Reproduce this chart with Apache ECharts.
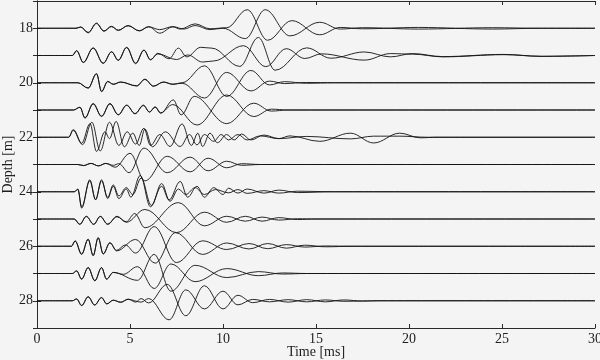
<!DOCTYPE html>
<html>
<head>
<meta charset="utf-8">
<script src="https://cdn.jsdelivr.net/npm/echarts@6/dist/echarts.min.js"></script>
<style>html,body{margin:0;padding:0;background:#f4f4f4;}#c{width:600px;height:360px;}</style>
</head>
<body>
<div id="c"></div>
<script>
// Axis ticks
const timeTicks = [0, 5, 10, 15, 20, 25, 30];
const depthLabels = [18, 20, 22, 24, 26, 28];
const depths = [18, 19, 20, 21, 22, 23, 24, 25, 26, 27, 28];

// Each trace: [time (ms), offset from depth (m, positive = deeper)] at peaks/troughs
const a18 = [[0,0],[2.1,0],[2.35,-0.05],[2.75,0.17],[3.2,-0.19],[3.6,0.11],[4.0,-0.07],[4.37,0.08],[4.9,-0.1],[5.5,0.1],[6.0,-0.06],[6.6,0.18],[7.3,-0.05],[7.7,0.03],[8.5,-0.16],[9.3,0.02],[10.2,-0.02],[11.3,-0.68],[12.4,0.44],[13.7,-0.28],[15.2,0.24],[16.3,-0.03],[17.5,0.02],[20.5,-0.03],[24.5,0.03],[27,0],[30,0]];
const b18 = [[0,0],[2.1,0],[2.35,-0.04],[2.75,0.15],[3.2,-0.17],[3.6,0.1],[4.0,-0.06],[4.37,0.07],[4.9,-0.09],[5.5,0.09],[6.0,-0.05],[6.6,0.05],[7.3,-0.06],[7.9,0.03],[8.5,-0.1],[9.3,0.05],[10.0,0.0],[11.2,0.38],[12.27,-0.68],[13.6,0.28],[15.2,-0.22],[16.3,0.03],[17.5,-0.02],[20.5,0.03],[24.5,-0.02],[27,0],[30,0]];

const a19 = [[0,0],[1.9,0],[2.13,-0.18],[2.49,0.26],[3.02,-0.28],[3.56,0.29],[4.01,-0.14],[4.37,0.18],[4.82,-0.3],[5.3,0.3],[5.75,-0.2],[6.1,0.16],[6.5,-0.08],[7.1,0.12],[7.6,-0.27],[8.05,0.05],[8.8,-0.3],[9.4,-0.27],[10.9,0.4],[11.9,-0.66],[12.8,0.54],[14.5,-0.28],[15.8,0.1],[17.6,-0.13],[19.0,0.05],[20.2,-0.07],[21.8,0.04],[25.1,-0.04],[27.1,0.03],[30,0]];
const b19 = [[0,0],[1.9,0],[2.13,-0.17],[2.49,0.25],[3.02,-0.27],[3.56,0.28],[4.01,-0.13],[4.37,0.17],[4.82,-0.29],[5.3,0.28],[5.75,-0.19],[6.1,0.15],[6.5,-0.06],[7.5,0.15],[8.1,-0.02],[8.9,0.24],[9.5,0.2],[11.1,-0.36],[12.3,0.41],[13.4,-0.25],[14.4,0.11],[15.3,-0.06],[17.6,0.17],[19.0,-0.07],[20.2,-0.05],[21.8,0.05],[25.1,-0.03],[27.1,0.03],[30,0]];

const a20 = [[0,0],[2.2,0],[2.75,0.2],[3.2,-0.34],[3.47,0.33],[3.8,-0.05],[4.1,0.06],[4.5,-0.03],[5.36,0.12],[5.8,-0.13],[6.26,0.13],[6.8,-0.03],[7.3,0.06],[7.8,0.0],[9.0,-0.62],[10.2,0.5],[11.5,-0.45],[12.5,0.08],[13.3,-0.04],[14.5,0.02],[16,0],[30,0]];
const b20 = [[0,0],[2.2,0],[2.75,0.19],[3.2,-0.32],[3.47,0.31],[3.8,-0.04],[4.1,0.05],[4.5,-0.02],[5.36,0.11],[5.8,-0.12],[6.26,0.12],[6.8,-0.02],[7.3,0.05],[7.8,0.02],[9.0,0.56],[10.2,-0.38],[11.5,0.3],[12.5,-0.06],[13.3,0.03],[14.5,-0.01],[16,0],[30,0]];

const a21 = [[0,0],[1.96,0],[2.31,-0.1],[2.58,0.3],[3.02,-0.24],[3.47,0.24],[3.92,-0.24],[4.37,0.18],[4.82,-0.18],[5.27,0.14],[5.72,-0.18],[6.05,0.08],[6.35,-0.12],[6.65,0.12],[7.33,-0.37],[7.75,0.18],[8.45,-0.5],[10.2,0.5],[11.65,-0.25],[12.6,0.04],[13.5,0],[30,0]];
const b21 = [[0,0],[1.96,0],[2.31,-0.1],[2.58,0.28],[3.02,-0.22],[3.47,0.22],[3.92,-0.22],[4.37,0.17],[4.82,-0.17],[5.27,0.13],[5.72,-0.16],[6.05,0.07],[6.35,-0.1],[6.65,0.1],[7.3,-0.2],[8.6,0.55],[10.2,-0.55],[11.65,0.24],[12.6,-0.03],[13.5,0],[30,0]];

const a22 = [[0,0],[1.7,0],[1.95,-0.28],[2.45,0.27],[2.95,-0.55],[3.4,0.5],[3.9,-0.55],[4.4,0.3],[4.85,-0.2],[5.3,0.25],[5.75,-0.33],[6.1,0.3],[6.6,-0.1],[7.15,0.34],[7.8,-0.49],[8.3,0.3],[8.65,-0.15],[8.9,0.34],[9.3,-0.15],[9.7,0.2],[10.2,-0.1],[10.6,0.1],[11.0,-0.12],[11.5,0.1],[12.2,-0.08],[13.0,0.05],[13.6,-0.05],[15.2,0.15],[16.85,-0.15],[18.1,0.21],[19.5,-0.15],[20.6,0.02],[21.5,0],[30,0]];
const b22 = [[0,0],[1.7,0],[1.95,-0.25],[2.4,0.22],[2.85,-0.5],[3.2,0.52],[3.65,-0.2],[3.9,0.05],[4.25,-0.58],[4.7,0.35],[5.15,-0.15],[5.5,0.3],[5.8,-0.3],[6.2,0.35],[6.9,-0.2],[7.7,0.34],[8.2,-0.1],[8.6,0.28],[9.0,-0.1],[9.5,0.15],[9.9,-0.1],[10.3,0.1],[10.8,-0.1],[11.3,0.1],[12.0,-0.05],[13.0,0.05],[14.5,-0.03],[16.85,0.06],[18.1,-0.04],[19.5,-0.04],[21,0],[30,0]];

const a23 = [[0,0],[2.2,0],[2.5,0.04],[2.9,-0.04],[3.3,0.05],[3.7,-0.04],[4.1,0.03],[4.4,-0.03],[4.95,0.3],[5.75,-0.6],[7.0,0.3],[8.23,-0.27],[9.2,0.23],[10.2,-0.12],[11.0,0.03],[12,0],[30,0]];
const b23 = [[0,0],[2.2,0],[2.5,0.04],[2.9,-0.04],[3.3,0.05],[3.7,-0.04],[4.2,0.1],[5.0,-0.41],[5.8,0.6],[7.0,-0.3],[8.23,0.27],[9.2,-0.23],[10.2,0.12],[11.0,-0.03],[12,0],[30,0]];

const a24 = [[0,0],[2.0,0],[2.2,-0.1],[2.4,0.6],[2.84,-0.44],[3.15,0.3],[3.47,-0.44],[3.8,0.25],[4.1,-0.2],[4.4,0.25],[4.8,-0.1],[5.05,0.2],[5.55,-0.6],[6.1,0.55],[6.7,-0.2],[7.1,0.3],[7.7,-0.38],[8.1,0.2],[8.6,-0.2],[9.0,0.2],[9.5,-0.15],[10.0,0.1],[10.3,-0.13],[10.8,0.05],[11.3,-0.1],[12.2,0.05],[13,-0.06],[14,0.03],[16,0],[30,0]];
const b24 = [[0,0],[2.0,0],[2.2,-0.08],[2.4,0.55],[2.84,-0.4],[3.15,0.28],[3.47,-0.4],[3.8,0.2],[4.1,-0.25],[4.4,0.15],[4.8,-0.15],[5.15,0.1],[5.6,-0.5],[6.15,0.5],[6.7,-0.3],[7.15,0.35],[7.6,-0.1],[8.0,0.1],[8.5,-0.15],[9.0,0.1],[9.6,-0.08],[10.3,0.04],[10.8,-0.08],[11.3,0.06],[12.2,-0.04],[13,0.05],[14,-0.02],[16,0],[30,0]];

const a25 = [[0,0],[2.0,0],[2.3,0.2],[2.65,-0.1],[3.05,0.2],[3.4,-0.1],[3.8,0.2],[4.3,-0.1],[4.8,0.12],[5.8,-0.35],[7.5,0.5],[9.0,-0.25],[10.2,0.12],[11.2,-0.1],[12.1,0.08],[13.0,-0.05],[14,0.02],[15,0],[30,0]];
const b25 = [[0,0],[2.0,0],[2.3,0.19],[2.65,-0.09],[3.05,0.19],[3.4,-0.09],[3.8,0.18],[4.3,-0.08],[4.8,0.1],[5.25,-0.2],[5.8,0.32],[7.6,-0.6],[9.0,0.25],[10.2,-0.1],[11.2,0.08],[12.1,-0.07],[13.0,0.04],[14,-0.01],[15,0],[30,0]];

const a26 = [[0,0],[1.85,0],[2.05,-0.2],[2.4,0.3],[2.75,-0.26],[3.02,0.35],[3.29,-0.32],[3.56,0.29],[3.92,-0.13],[4.28,0.17],[5.3,-0.25],[6.35,0.62],[7.45,-0.5],[8.9,0.3],[10.2,-0.12],[11.4,0.1],[12.4,-0.1],[13.4,0.07],[14.4,-0.04],[15.5,0.02],[17,0],[30,0]];
const b26 = [[0,0],[1.85,0],[2.05,-0.19],[2.4,0.28],[2.75,-0.25],[3.02,0.33],[3.29,-0.3],[3.56,0.27],[3.92,-0.12],[4.28,0.15],[4.75,-0.05],[5.3,0.25],[6.3,-0.72],[7.5,0.6],[8.9,-0.2],[10.2,0.12],[11.4,-0.1],[12.4,0.09],[13.4,-0.06],[14.4,0.03],[15.5,-0.01],[17,0],[30,0]];

const a27 = [[0,0],[1.9,0],[2.13,-0.1],[2.4,0.21],[2.75,-0.22],[3.11,0.27],[3.47,-0.22],[3.74,0.21],[4.1,-0.04],[4.64,0.03],[5.4,-0.25],[6.3,0.55],[7.2,-0.35],[8.5,0.3],[10.2,-0.18],[11.9,0.08],[13.2,-0.02],[14.5,0],[30,0]];
const b27 = [[0,0],[1.9,0],[2.13,-0.09],[2.4,0.2],[2.75,-0.21],[3.11,0.26],[3.47,-0.21],[3.74,0.2],[4.1,-0.04],[5.4,0.25],[6.3,-0.7],[7.2,0.65],[8.5,-0.3],[10.2,0.15],[11.9,-0.07],[13.2,0.02],[14.5,0],[30,0]];

const a28 = [[0,0],[1.9,0],[2.13,-0.07],[2.4,0.18],[2.75,-0.15],[3.1,0.16],[3.47,-0.12],[3.75,0.12],[4.1,-0.02],[4.5,0.06],[4.9,-0.06],[5.3,0.05],[5.6,-0.08],[6.0,0.08],[7.0,-0.6],[8.0,0.55],[9.0,-0.55],[10.0,0.3],[10.8,-0.2],[11.6,0.07],[12.5,-0.05],[13.5,0.05],[14.5,-0.04],[15.5,0.04],[16.5,-0.03],[17.5,0.01],[18.5,0],[30,0]];
const b28 = [[0,0],[1.9,0],[2.13,-0.06],[2.4,0.17],[2.75,-0.14],[3.1,0.15],[3.47,-0.11],[3.75,0.11],[4.1,-0.02],[4.5,0.05],[4.9,-0.05],[5.6,0.05],[6.0,-0.08],[7.1,0.7],[8.0,-0.4],[9.0,0.3],[10.0,-0.35],[10.8,0.15],[11.6,-0.05],[12.5,0.04],[13.5,-0.04],[14.5,0.04],[15.5,-0.03],[16.5,0.02],[18.5,0],[30,0]];

const tracesA = [a18, a19, a20, a21, a22, a23, a24, a25, a26, a27, a28];
const tracesB = [b18, b19, b20, b21, b22, b23, b24, b25, b26, b27, b28];

const FONT = 'Liberation Serif';
const TXT = '#1e1e1e';
const AX = '#2a2a2a';

const series = [];
depths.forEach((d, i) => {
  [tracesA[i], tracesB[i]].forEach(tr => {
    series.push({
      type: 'line',
      data: tr.map(p => [p[0], d + p[1]]),
      smooth: 0.37,
      smoothMonotone: 'x',
      showSymbol: false,
      symbol: 'none',
      silent: true,
      clip: true,
      lineStyle: { color: '#121212', width: 0.9 }
    });
  });
});

const chart = echarts.init(document.getElementById('c'), null, { renderer: 'canvas' });
chart.setOption({
  backgroundColor: '#f4f4f4',
  animation: false,
  grid: { left: 37, right: 5, top: 1, bottom: 32, containLabel: false, outerBoundsMode: 'none' },
  xAxis: [
    {
      type: 'value', min: timeTicks[0], max: timeTicks[timeTicks.length - 1], interval: 5,
      position: 'bottom',
      name: 'Time [ms]', nameLocation: 'middle', nameGap: 17, nameMoveOverlap: false,
      nameTextStyle: { fontFamily: FONT, fontSize: 14, color: TXT },
      axisLine: { show: true, lineStyle: { color: AX, width: 1 } },
      axisTick: { show: true, inside: true, length: 4, lineStyle: { color: AX } },
      axisLabel: { fontFamily: FONT, fontSize: 14, color: TXT, margin: 4, showMinLabel: true, showMaxLabel: true },
      splitLine: { show: false }
    },
    {
      type: 'value', min: timeTicks[0], max: timeTicks[timeTicks.length - 1], interval: 5,
      position: 'top',
      axisLine: { show: true, lineStyle: { color: AX, width: 1 } },
      axisTick: { show: true, inside: true, length: 4, lineStyle: { color: AX } },
      axisLabel: { show: false },
      splitLine: { show: false }
    }
  ],
  yAxis: [
    {
      type: 'value', inverse: true, min: 17, max: 29, interval: 1,
      position: 'left',
      name: 'Depth [m]', nameLocation: 'middle', nameGap: 22, nameRotate: 90, nameMoveOverlap: false,
      nameTextStyle: { fontFamily: FONT, fontSize: 14, color: TXT },
      axisLine: { show: true, lineStyle: { color: AX, width: 1 } },
      axisTick: { show: true, inside: true, length: 4, lineStyle: { color: AX } },
      axisLabel: {
        fontFamily: FONT, fontSize: 14, color: TXT, margin: 4,
        formatter: v => (depthLabels.indexOf(v) >= 0 ? String(v) : '')
      },
      splitLine: { show: false }
    },
    {
      type: 'value', inverse: true, min: 17, max: 29, interval: 1,
      position: 'right',
      axisLine: { show: true, lineStyle: { color: AX, width: 1 } },
      axisTick: { show: true, inside: true, length: 4, lineStyle: { color: AX } },
      axisLabel: { show: false },
      splitLine: { show: false }
    }
  ],
  series: series
});
</script>
</body>
</html>
